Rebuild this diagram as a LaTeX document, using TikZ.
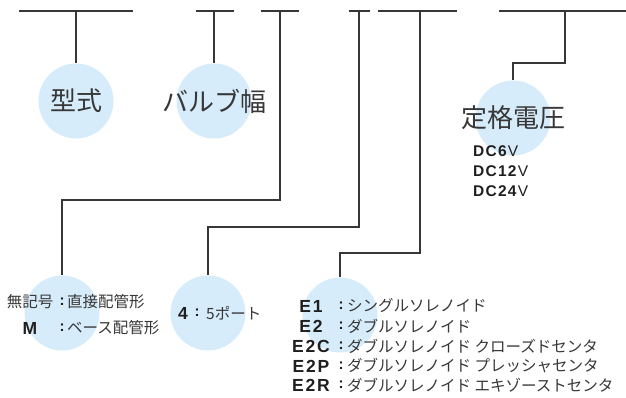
\documentclass[tikz,border=0pt]{standalone}
\usepackage{fontspec}
\setmainfont{Liberation Sans}
\newfontfamily\jpfont{Noto Sans CJK JP}
\usetikzlibrary{calc}
\definecolor{bubblefill}{RGB}{214,236,250}
\definecolor{ink}{RGB}{55,55,55}

\begin{document}
\begin{tikzpicture}[x=1pt,y=-1pt,
  lead/.style={draw=ink,line width=1.3pt},
  disc/.style={circle,fill=bubblefill,minimum size=75pt,inner sep=0pt},
  head/.style={font=\jpfont\fontsize{26}{26}\selectfont,text=ink},
  item/.style={font=\jpfont\fontsize{15.5}{15.5}\selectfont,text=ink,inner sep=0pt},
  code/.style={font=\bfseries\fontsize{17.5}{17.5}\selectfont\addfontfeature{LetterSpace=10},text=black!88,inner sep=0pt},
  colon/.style={font=\bfseries\fontsize{15}{15}\selectfont,text=black!88,inner sep=0pt},
  rating/.style={font=\fontsize{15.5}{15.5}\selectfont\addfontfeature{LetterSpace=8},text=black!88,inner sep=0pt,anchor=west}]
  \useasboundingbox (0,0) rectangle (626,397);

  % Bubbles
  \node[disc] (type) at (76,101) {};
  \node[disc] (width) at (214,101) {};
  \node[disc] (volt) at (513,118) {};
  \node[disc] (pipe) at (62,313) {};
  \node[disc] (port) at (208,313) {};
  \node[disc] (sol) at (340,315) {};

  % Top bars of the model code
  \draw[lead] (19,11) -- (133,11);
  \draw[lead] (196,11) -- (234,11);
  \draw[lead] (261,11) -- (299,11);
  \draw[lead] (349,11) -- (370,11);
  \draw[lead] (378,11) -- (457,11);
  \draw[lead] (499,11) -- (626,11);
  \coordinate (barA) at (76,11);
  \coordinate (barB) at (214,11);
  \coordinate (barC) at (280,11);
  \coordinate (barD) at (359,11);
  \coordinate (barE) at (420,11);
  \coordinate (barF) at (565,11);

  % Leads down to the bubbles
  \coordinate (kneeC) at (62,200);
  \coordinate (kneeD) at (208,227);
  \coordinate (kneeE) at (340,253);
  \coordinate (kneeF) at (513,63);
  \draw[lead] (barA) -- (type);
  \draw[lead] (barB) -- (width);
  \draw[lead] (barC) |- (kneeC) -- (pipe);
  \draw[lead] (barD) |- (kneeD) -- (port);
  \draw[lead] (barE) |- (kneeE) -- (sol);
  \draw[lead] (barF) |- (kneeF) -- (volt);

  % Headings
  \node[head] at (type) {型式};
  \node[head] at (width) {バルブ幅};
  \node[head] at (volt) {定格電圧};

  % Rated voltage
  \node[rating] (dc6) at (473,151) {\textbf{DC6}V};
  \node[rating] (dc12) at (473,171) {\textbf{DC12}V};
  \node[rating] (dc24) at (473,191) {\textbf{DC24}V};

  % Piping
  \node[item] (plain) at (30,302) {無記号};
  \node[colon] at (62,302) {:};
  \node[item,anchor=west] at (67,302) {直接配管形};
  \node[code] (base) at (30,328) {M};
  \node[colon] at (62,328) {:};
  \node[item,anchor=west] at (67,328) {ベース配管形};

  % Port
  \node[code] (four) at (183,313) {4};
  \node[colon] at (197,313) {:};
  \node[item,anchor=west] at (206,313) {5ポート};

  % Solenoid
  \node[code] (e1) at (311,306) {E1};
  \node[colon] at (341,306) {:};
  \node[item,anchor=west] at (347,306) {シングルソレノイド};
  \node[code] (e2) at (311,326) {E2};
  \node[colon] at (341,326) {:};
  \node[item,anchor=west] at (347,326) {ダブルソレノイド};
  \node[code] (e2c) at (311,346) {E2C};
  \node[colon] at (341,346) {:};
  \node[item,anchor=west] at (347,346) {ダブルソレノイド クローズドセンタ};
  \node[code] (e2p) at (311,366) {E2P};
  \node[colon] at (341,366) {:};
  \node[item,anchor=west] at (347,366) {ダブルソレノイド プレッシャセンタ};
  \node[code] (e2r) at (311,385) {E2R};
  \node[colon] at (341,385) {:};
  \node[item,anchor=west] at (347,385) {ダブルソレノイド エキゾーストセンタ};
\end{tikzpicture}
\end{document}
